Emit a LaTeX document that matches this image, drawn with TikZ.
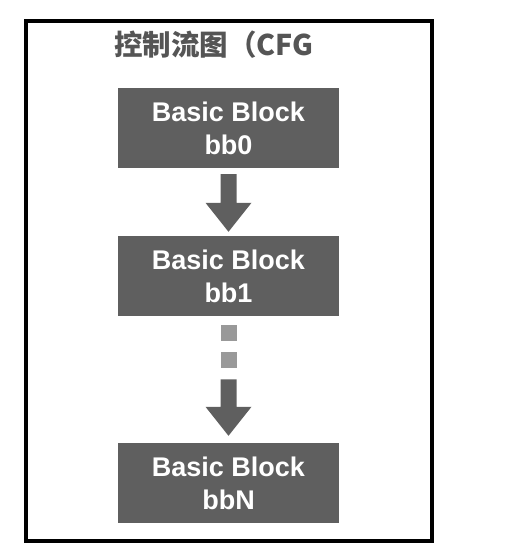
\documentclass[tikz,border=0pt]{standalone}
\usepackage{fontspec}
\setmainfont{Liberation Sans}
\newfontfamily\cjk{Noto Sans CJK SC}
\usetikzlibrary{calc}
\definecolor{boxgray}{HTML}{5F5F5F}
\definecolor{dotgray}{HTML}{999999}
\definecolor{titlegray}{HTML}{555555}
\tikzset{
  bblock/.style={fill=boxgray, draw=none, minimum width=221pt, minimum height=80pt,
    inner sep=0pt, text=white, align=center,
    font=\fontsize{27}{33}\selectfont\bfseries},
  fatarrowfill/.style={fill=boxgray},
  dotsq/.style={fill=dotgray, draw=none, minimum width=16pt, minimum height=16pt, inner sep=0pt},
  frame/.style={draw=black, line width=4pt}
}
\newcommand\fatarrow[2]{%
  \fill[fatarrowfill] ($(#1)+(-8,0)$) -- ($(#2)+(-8,29)$) -- ($(#2)+(-23,29)$) -- (#2)
    -- ($(#2)+(23,29)$) -- ($(#2)+(8,29)$) -- ($(#1)+(8,0)$) -- cycle;}
\begin{document}
\begin{tikzpicture}[x=1pt,y=1pt]
\useasboundingbox (0,0) rectangle (524,560);
\draw[frame] (26,539) rectangle (432,19);
\node[anchor=base west, inner sep=0pt, text=titlegray, font=\cjk\fontsize{28.5}{30}\selectfont\bfseries] (title) at (114,504) {控制流图（CFG};
\node[bblock] (b0) at (228.5,432) {Basic Block\\bb0};
\node[bblock] (b1) at (228.5,284) {Basic Block\\bb1};
\node[bblock] (bN) at (228.5,77) {Basic Block\\bbN};
\coordinate (a1s) at ($(b0.south)+(0,-6)$);
\coordinate (a1t) at ($(b1.north)+(0,4)$);
\fatarrow{a1s}{a1t}
\node[dotsq] (d1) at ($(b1.south)+(0,-17)$) {};
\node[dotsq] (d2) at ($(d1)+(0,-27)$) {};
\coordinate (a2s) at ($(d2.south)+(0,-11)$);
\coordinate (a2t) at ($(bN.north)+(0,7)$);
\fatarrow{a2s}{a2t}
\end{tikzpicture}
\end{document}
